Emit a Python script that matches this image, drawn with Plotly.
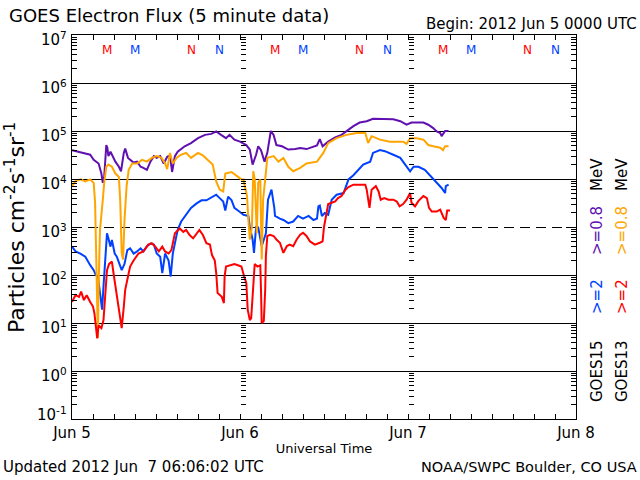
import math
import plotly.graph_objects as go

# time axis: hours since 2012 Jun 5 00:00 UTC
day_ticks = [0, 24, 48, 72]
day_labels = ["Jun 5", "Jun 6", "Jun 7", "Jun 8"]
decades = [0.1, 1, 10, 100, 1e3, 1e4, 1e5, 1e6, 1e7]
decade_labels = ["10<sup>-1</sup>", "10<sup>0</sup>", "10<sup>1</sup>", "10<sup>2</sup>", "10<sup>3</sup>",
                 "10<sup>4</sup>", "10<sup>5</sup>", "10<sup>6</sup>", "10<sup>7</sup>"]
solid_grid_levels = [1, 10, 100, 1e4, 1e5, 1e6]   # solid horizontal lines
dashed_grid_levels = [1e3]                        # dashed horizontal line
Y_LOG_RANGE = [-1, 7]

# GOES15 >=0.8 MeV (purple)
g15_08_t = [0.0,1.4,2.6,3.1,3.8,4.2,4.4,4.6,4.9,5.05,5.2,5.5,5.8,6.2,6.7,7.0,7.4,7.6,8.0,8.3,8.8,9.3,9.8,10.2,10.7,
            11.2,11.7,12.1,12.6,13.1,13.6,14.0,14.3,14.7,15.1,16.1,17.0,18.0,19.0,19.9,20.6,21.3,22.0,22.5,23.2,24.0,
            24.9,25.4,25.8,26.3,26.6,27.0,27.5,27.9,28.4,28.8,29.2,30.0,30.9,31.9,32.6,33.5,34.5,35.0,35.4,35.8,36.6,
            37.6,38.5,39.2,40.2,41.1,42.1,43.0,44.0,45.0,45.9,46.9,47.8,48.5,49.2,50.2,50.9,51.6,52.1,52.6,52.8,53.3,53.8]
g15_08_v = [4.0e4,3.5e4,3.2e4,2.5e4,2.1e4,1.3e4,8.3e3,1.1e4,5.1e4,4.5e4,3.0e4,3.7e4,3.0e4,2.3e4,1.8e4,1.45e4,3.5e4,
            4.3e4,2.75e4,2.5e4,2.2e4,2.3e4,1.8e4,1.7e4,1.55e4,2.3e4,3.0e4,2.75e4,3.0e4,2.1e4,2.9e4,3.1e4,1.4e4,3.0e4,
            3.7e4,4.8e4,5.6e4,7.1e4,8.3e4,8.7e4,9.8e4,8.3e4,7.1e4,8.3e4,6.6e4,6.0e4,5.1e4,4.1e4,2.0e4,3.2e4,4.8e4,
            4.0e4,2.3e4,3.5e4,1.0e5,8.3e4,5.1e4,4.8e4,4.1e4,4.2e4,4.4e4,4.2e4,4.8e4,5.0e4,6.8e4,4.8e4,6.0e4,7.4e4,
            8.3e4,1.0e5,1.26e5,1.5e5,1.6e5,1.8e5,1.8e5,1.8e5,1.75e5,1.6e5,1.35e5,1.5e5,1.5e5,1.5e5,1.35e5,1.15e5,
            9.8e4,9.1e4,7.8e4,1.0e5,1.0e5]

# GOES15 >=2 MeV (blue)
g15_2_t = [0.0,0.5,1.2,1.9,2.6,3.1,3.4,3.7,4.0,4.3,4.5,4.8,5.0,5.2,5.5,5.7,6.1,6.4,6.9,7.1,7.5,7.9,8.3,8.8,9.3,9.8,
           10.2,10.7,11.2,11.7,12.1,12.6,12.9,13.3,13.8,14.0,14.1,14.4,14.7,15.1,15.6,16.3,17.0,17.8,18.5,19.2,19.9,
           20.6,21.1,21.6,21.9,22.3,22.8,23.2,23.9,24.5,25.2,25.4,25.8,26.0,26.3,26.6,27.1,27.3,27.7,28.0,28.5,28.9,
           29.0,29.7,30.2,30.9,31.6,32.3,33.0,33.8,34.5,35.0,35.2,35.4,35.7,36.1,36.6,37.1,37.8,38.8,39.5,40.2,40.9,
           41.6,42.6,43.0,44.0,44.7,45.9,46.9,47.6,48.3,48.8,49.5,50.4,50.9,51.6,52.3,52.8,53.3,53.4,53.8]
g15_2_v = [3.9e2,3.1e2,2.8e2,2.4e2,1.6e2,1.26e2,1.0e2,9.3e1,4.2e1,1.9e1,5.8e1,2.8e2,7.4e2,5.8e2,3.9e2,5.4e2,2.8e2,
           2.4e2,1.5e2,1.26e2,1.7e2,3.3e2,3.6e2,2.8e2,3.1e2,3.6e2,3.1e2,4.0e2,4.5e2,4.3e2,2.8e2,2.4e2,1.1e2,2.8e2,
           2.0e2,1.0e2,9.3e1,2.8e2,4.6e2,8.7e2,1.3e3,1.8e3,2.5e3,3.1e3,3.6e3,3.6e3,4.2e3,4.7e3,4.0e3,3.4e3,2.2e3,
           4.3e3,3.6e3,2.5e3,2.1e3,1.8e3,1.7e3,1.0e3,5.5e2,2.9e2,1.0e3,9.8e2,4.0e2,5.0e2,7.4e2,3.7e3,6.0e3,2.5e3,
           1.7e3,1.5e3,1.4e3,1.2e3,1.3e3,1.7e3,1.5e3,1.7e3,1.4e3,1.5e3,2.7e3,2.8e3,1.7e3,1.95e3,1.8e3,3.7e3,4.7e3,
           5.1e3,9.8e3,1.2e4,1.55e4,2.0e4,2.3e4,3.5e4,4.0e4,3.8e4,3.2e4,2.75e4,2.0e4,1.45e4,1.8e4,1.8e4,1.55e4,
           1.3e4,9.8e3,7.6e3,6.5e3,5.1e3,7.1e3,7.6e3]

# GOES13 >=0.8 MeV (orange)
g13_08_t = [0.0,0.5,1.2,1.9,2.6,3.1,3.3,3.5,3.6,3.7,3.8,4.0,4.4,4.6,4.9,5.2,5.7,6.2,6.7,6.9,7.1,7.3,7.5,7.8,8.1,8.6,
            9.3,10.0,10.7,11.4,12.1,12.8,13.3,13.6,14.0,14.4,15.0,15.6,16.3,17.0,18.0,18.7,19.4,20.1,20.6,21.1,21.6,
            21.9,22.8,23.7,24.2,24.5,25.0,25.2,25.4,25.7,25.9,26.1,26.4,26.6,26.9,27.1,27.3,27.6,27.9,28.8,29.5,30.2,
            30.9,31.6,32.6,33.5,35.0,35.9,36.6,37.8,39.2,40.7,41.9,42.3,42.8,44.0,45.4,47.3,47.8,48.3,49.2,50.2,50.9,
            51.6,52.6,53.0,53.3,53.8]
g13_08_v = [7.1e3,8.9e3,9.8e3,8.9e3,9.8e3,8.3e3,3.2e3,1.26e2,1.2e1,4.9,5.8e1,8.7e2,3.7e3,8.3e3,1.8e4,2.0e4,1.8e4,
            1.3e4,1.1e4,3.2e3,2.9e2,2.1e2,1.4e3,7.1e3,1.55e4,2.1e4,2.1e4,2.5e4,2.3e4,2.75e4,3.0e4,2.75e4,2.1e4,
            1.6e4,3.5e4,2.1e4,2.8e4,3.2e4,3.5e4,2.75e4,3.5e4,3.1e4,2.5e4,2.0e4,8.9e3,6.0e3,5.5e3,1.3e4,1.4e4,1.1e4,
            9.8e3,9.8e3,4.4e3,1.4e3,5.5e2,1.0e3,1.45e4,9.8e3,7.4e2,8.3e3,9.8e3,2.1e2,3.7e3,9.8e3,2.75e4,3.0e4,2.3e4,
            2.75e4,1.8e4,1.45e4,1.7e4,2.1e4,2.3e4,3.5e4,5.6e4,7.1e4,8.3e4,9.1e4,9.1e4,5.6e4,7.8e4,6.6e4,6.0e4,
            6.0e4,5.4e4,7.1e4,7.1e4,6.6e4,5.1e4,4.8e4,4.5e4,4.0e4,4.8e4,4.8e4]

# GOES13 >=2 MeV (red)
g13_2_t = [0.0,0.5,1.0,1.3,1.7,2.1,2.6,3.0,3.2,3.4,3.6,3.8,4.2,4.5,4.8,5.0,5.3,5.7,6.0,6.2,6.6,6.9,7.1,7.4,7.6,8.0,
           8.3,8.8,9.5,10.2,10.9,11.4,11.9,12.4,12.9,13.3,13.8,14.2,14.7,15.4,15.9,16.3,16.8,17.3,17.8,18.2,18.7,19.2,
           19.7,20.0,20.4,20.6,20.8,21.1,21.4,21.7,21.8,22.0,22.5,23.2,23.7,24.2,24.6,24.9,25.1,25.4,25.6,25.9,26.1,
           26.5,26.9,27.0,27.1,27.4,27.6,27.7,27.9,28.3,28.8,29.2,29.7,30.2,30.7,31.1,31.6,32.1,32.6,33.0,33.5,34.0,
           34.7,35.4,35.8,36.0,36.3,36.6,37.1,37.6,38.0,38.5,39.0,39.5,40.2,41.1,41.9,42.1,42.5,42.8,43.4,43.8,44.1,
           44.6,45.2,45.9,46.4,46.8,47.3,47.8,48.3,48.5,49.0,49.5,50.2,50.7,51.0,51.4,52.1,52.6,53.1,53.4,53.6,54.0]
g13_2_v = [2.75e1,3.8e1,3.5e1,4.5e1,3.0e1,3.8e1,2.75e1,2.2e1,1.6e1,8.3,4.8,8.9,7.8,1.15e1,4.2e1,1.26e2,1.7e2,1.9e2,
           9.3e1,5.8e1,2.2e1,1.26e1,7.8,2.2e1,4.9e1,9.3e1,1.5e2,2.0e2,2.8e2,3.1e2,4.3e2,4.6e2,3.9e2,3.1e2,3.9e2,
           3.1e2,2.8e2,3.3e2,7.4e2,9.3e2,7.9e2,8.7e2,6.8e2,5.8e2,7.4e2,8.7e2,6.8e2,4.6e2,4.3e2,2.6e2,2.0e2,1.1e2,
           4.2e1,3.8e1,3.5e1,2.6e1,9.3e1,1.5e2,1.6e2,1.7e2,1.6e2,1.5e2,9.3e1,6.8e1,1.9e1,1.15e1,1.26e1,7.9e1,1.7e2,
           1.5e2,1.6e2,4.9e1,1.0e1,1.1e1,4.9e1,2.5e2,6.5e2,6.9e2,6.5e2,5.5e2,4.7e2,2.9e2,4.0e2,4.3e2,4.0e2,5.5e2,
           6.9e2,7.6e2,6.5e2,5.0e2,4.3e2,4.7e2,5.0e2,1.0e3,1.7e3,3.0e3,3.2e3,3.4e3,4.0e3,4.4e3,5.8e3,6.8e3,7.6e3,
           7.6e3,7.6e3,6.0e3,2.5e3,6.0e3,7.1e3,5.5e3,3.7e3,4.0e3,3.7e3,3.7e3,3.4e3,2.7e3,3.0e3,3.7e3,5.1e3,3.2e3,
           2.7e3,3.5e3,4.4e3,4.0e3,2.5e3,2.1e3,2.1e3,2.3e3,1.55e3,1.4e3,2.2e3,2.2e3]

# local midnight (M) / noon (N) markers, hours
g13_midnight = [5, 29, 53]
g15_midnight = [9, 33, 57]
g13_noon = [17, 41, 65]
g15_noon = [21, 45, 69]

PURPLE = "#6010B0"
BLUE = "#0040FF"
ORANGE = "#FFA500"
RED = "#FF0000"
FONT = "DejaVu Sans"

W, H = 640, 480
L, R, T, B = 72, 576, 35, 419


def px(xp):
    return (xp - L) / (R - L)


def py(yp):
    return (B - yp) / (B - T)


fig = go.Figure()
for t, v, c in [(g15_08_t, g15_08_v, PURPLE), (g15_2_t, g15_2_v, BLUE),
                (g13_08_t, g13_08_v, ORANGE), (g13_2_t, g13_2_v, RED)]:
    fig.add_trace(go.Scatter(x=t, y=v, mode="lines", line=dict(color=c, width=2),
                             showlegend=False, hoverinfo="skip"))

# dummy traces so the overlay axes (tick columns and grid lines) are drawn
for ax in ["y2", "y3", "y4", "y5"]:
    fig.add_trace(go.Scatter(x=[None], y=[None], yaxis=ax, showlegend=False, hoverinfo="skip"))

minor_y = dict(ticks="inside", ticklen=5, tickcolor="black", dtick="D1", showgrid=False)

yax_common = dict(type="log", range=Y_LOG_RANGE, zeroline=False)

fig.update_layout(
    width=W, height=H,
    margin=dict(l=L, r=W - R, t=T, b=H - B, autoexpand=False),
    paper_bgcolor="white", plot_bgcolor="white",
    font=dict(family=FONT, color="black"),
    xaxis=dict(range=[0, 72], showgrid=False, zeroline=False, showline=True, linecolor="black",
               linewidth=1, mirror="ticks", ticks="inside", ticklen=5, tickcolor="black",
               tickmode="array", tickvals=day_ticks, ticktext=day_labels,
               tickfont=dict(size=15), ticklabelstandoff=0,
               minor=dict(ticks="inside", ticklen=5, tickcolor="black", dtick=3, showgrid=False),
               title=dict(text="Universal Time", font=dict(size=13), standoff=2)),
    yaxis=dict(**yax_common, showgrid=False, showline=True, linecolor="black", linewidth=1, mirror="ticks",
               ticks="inside", ticklen=10, tickcolor="black", tickmode="array",
               tickvals=decades, showticklabels=False, minor=minor_y),
    yaxis2=dict(**yax_common, showgrid=False, overlaying="y", anchor="free", position=1 / 3, side="left",
                showline=False, ticks="inside", ticklen=5, tickcolor="black",
                tickmode="array", tickvals=decades, showticklabels=False, minor=minor_y),
    yaxis3=dict(**yax_common, showgrid=False, overlaying="y", anchor="free", position=2 / 3, side="left",
                showline=False, ticks="inside", ticklen=5, tickcolor="black",
                tickmode="array", tickvals=decades, showticklabels=False, minor=minor_y),
    # solid decade grid lines
    yaxis4=dict(**yax_common, overlaying="y", anchor="free", position=0, showline=False, ticks="",
                tickmode="array", tickvals=solid_grid_levels, showticklabels=False,
                showgrid=True, gridcolor="black", gridwidth=1),
    # dashed 10^3 grid line
    yaxis5=dict(**yax_common, overlaying="y", anchor="free", position=0, showline=False, ticks="",
                tickmode="array", tickvals=dashed_grid_levels, showticklabels=False,
                showgrid=True, gridcolor="black", gridwidth=1, griddash="10px,6px"),
)

ann = []
ann.append(dict(text="GOES Electron Flux (5 minute data)", x=px(7), y=py(16), xanchor="left",
                yanchor="middle", font=dict(size=18)))
ann.append(dict(text="Begin: 2012 Jun 5 0000 UTC", x=px(639), y=py(24), xanchor="right",
                yanchor="middle", font=dict(size=15)))
ann.append(dict(text="Updated 2012 Jun \u00a07 06:06:02 UTC", x=px(1), y=py(467), xanchor="left",
                yanchor="middle", font=dict(size=15)))
ann.append(dict(text="NOAA/SWPC Boulder, CO USA", x=px(639), y=py(467), xanchor="right",
                yanchor="middle", font=dict(size=14.5)))
ann.append(dict(text="Particles cm<sup>-2</sup>s<sup>-1</sup>sr<sup>-1</sup>", x=px(15), y=py(228),
                xanchor="center", yanchor="middle", textangle=-90, font=dict(size=22)))

# y tick labels (placed like the original: just below each decade, last one kept inside)
for d, lab in zip(decades, decade_labels):
    frac = (math.log10(d) - Y_LOG_RANGE[0]) / (Y_LOG_RANGE[1] - Y_LOG_RANGE[0])
    shift = 5 if d == decades[0] else -4
    ann.append(dict(text=lab, x=px(69), y=frac, xanchor="right", yanchor="middle", yshift=shift,
                    font=dict(size=15)))

# M / N markers
for hours, letter, color in [(g13_midnight, "M", RED), (g15_midnight, "M", BLUE),
                             (g13_noon, "N", RED), (g15_noon, "N", BLUE)]:
    for hr in hours:
        ann.append(dict(text=letter, x=hr, xref="x", y=py(50), xanchor="center", yanchor="middle",
                        font=dict(size=12, color=color)))

# right side legend (rotated)
legend_rows = [("GOES15", "black", 371), ("&gt;=2", BLUE, 297), ("&gt;=0.8", PURPLE, 231), ("MeV", "black", 175)]
legend_rows2 = [("GOES13", "black", 371), ("&gt;=2", RED, 297), ("&gt;=0.8", ORANGE, 231), ("MeV", "black", 175)]
for col_x, rows in [(597, legend_rows), (622, legend_rows2)]:
    for txt, col, yc in rows:
        ann.append(dict(text=txt, x=px(col_x), y=py(yc), xanchor="center", yanchor="middle",
                        textangle=-90, font=dict(size=15, color=col)))

for a in ann:
    a.setdefault("xref", "paper")
    a.setdefault("yref", "paper")
    a["showarrow"] = False
    fig.add_annotation(**a)

# remove the default page margin so the figure sits at the window's top-left corner
fig.write_html("out.html", config={"displayModeBar": False},
               post_script="document.body.style.margin='0px';")
